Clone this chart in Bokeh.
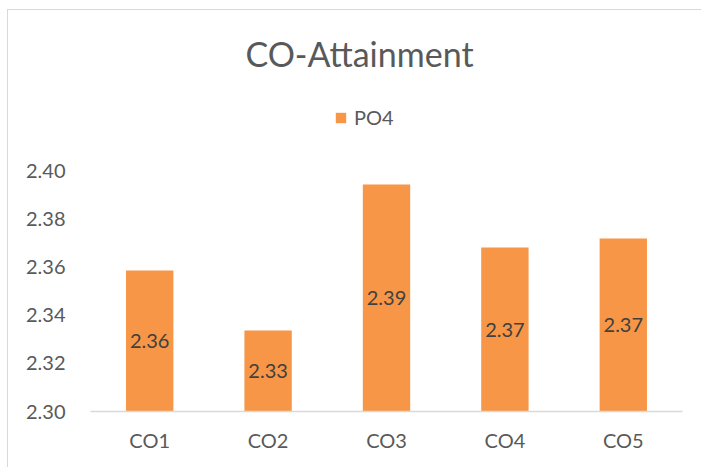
from bokeh.plotting import figure
from bokeh.models import (ColumnDataSource, LabelSet, Label, Range1d, FactorRange,
                          FixedTicker, NumeralTickFormatter)
from bokeh.core.properties import value
from bokeh.embed import file_html
from bokeh.resources import INLINE

# data
courses = ["CO1", "CO2", "CO3", "CO4", "CO5"]
po4 = [2.3585, 2.3336, 2.3942, 2.3680, 2.3718]
y_ticks = [2.30, 2.32, 2.34, 2.36, 2.38, 2.40]
series_name = "PO4"
chart_title = "CO-Attainment"

y_lo, y_hi = y_ticks[0], y_ticks[-1]

FONT = "Lato"
AXIS_GREY = "#595959"
BAR_ORANGE = "#F79646"

# canvas geometry (the figure sits inside a thin chart-area border)
W, H = 694, 458
PLOT_H = 401          # frame runs from the canvas top down to the category axis
AXIS_SPAN = 241       # pixels between the 2.30 and 2.40 gridline positions
# the frame is taller than the value axis so the title and legend can sit inside it
y_top = y_lo + (y_hi - y_lo) * PLOT_H / AXIS_SPAN

src = ColumnDataSource(dict(
    co=courses,
    val=po4,
    mid=[(y_lo + v) / 2 for v in po4],
    txt=[f"{v:.2f}" for v in po4],
))

p = figure(width=W, height=H,
           x_range=FactorRange(*courses), y_range=Range1d(y_lo, y_top),
           output_backend="svg", toolbar_location=None,
           min_border_left=82, min_border_right=20,
           min_border_top=0, min_border_bottom=H - PLOT_H)
p.title.visible = False
p.styles = {"margin-left": "7px", "margin-top": "9px",
            "border-left": "1px solid #D9D9D9", "border-top": "1px solid #D9D9D9"}

p.vbar(x="co", top="val", bottom=y_lo, width=0.4, source=src,
       fill_color=BAR_ORANGE, line_color=None, legend_label=series_name)

# value labels centred inside each bar
p.add_layout(LabelSet(x="co", y="mid", text="txt", source=src,
                      text_align="center", text_baseline="middle",
                      text_font=value(FONT), text_font_size="20px",
                      text_color="#404040"))

# axes
p.xaxis.axis_line_color = "#D9D9D9"
p.xaxis.axis_line_width = 1.5
p.xaxis.major_tick_line_color = None
p.xaxis.minor_tick_line_color = None
p.xaxis.major_label_text_font = FONT
p.xaxis.major_label_text_font_size = "20px"
p.xaxis.major_label_text_color = AXIS_GREY
p.xaxis.major_label_standoff = 10

p.yaxis.ticker = FixedTicker(ticks=y_ticks)
p.yaxis.formatter = NumeralTickFormatter(format="0.00")
p.yaxis.axis_line_color = None
p.yaxis.major_tick_line_color = None
p.yaxis.minor_tick_line_color = None
p.yaxis.major_label_text_font = FONT
p.yaxis.major_label_text_font_size = "20px"
p.yaxis.major_label_text_color = AXIS_GREY
p.yaxis.major_label_standoff = 19

p.xgrid.grid_line_color = None
p.ygrid.grid_line_color = None
p.outline_line_color = None

# chart title, centred on the chart area
p.add_layout(Label(x=351 - 82, y=PLOT_H - 43, x_units="screen", y_units="screen",
                   text=chart_title, text_align="center", text_baseline="middle",
                   text_font=FONT, text_font_size="34px",
                   text_color=AXIS_GREY))

# legend
lg = p.legend[0]
lg.location = (244, 282)
lg.padding = 0
lg.margin = 0
lg.border_line_color = None
lg.background_fill_color = None
lg.glyph_width = 13
lg.glyph_height = 13
lg.label_standoff = 7
lg.label_text_font = FONT
lg.label_text_font_size = "20px"
lg.label_text_color = AXIS_GREY

open("out.html", "w").write(file_html(p, INLINE))
